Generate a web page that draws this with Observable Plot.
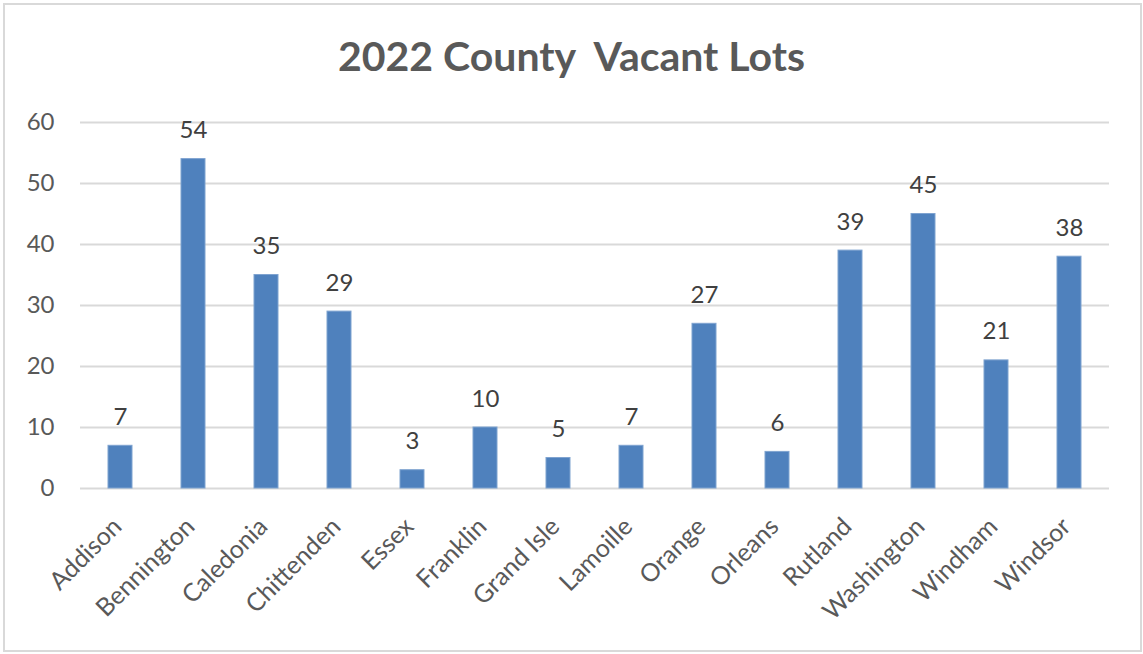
<!DOCTYPE html>
<html>
<head>
<meta charset="utf-8">
<script src="https://cdn.jsdelivr.net/npm/d3@7"></script>
<script src="https://cdn.jsdelivr.net/npm/@observablehq/plot@0.6"></script>
<style>
  html, body { margin: 0; padding: 0; background: #fff; }
  #wrap { position: relative; width: 1143px; height: 654px; overflow: hidden; font-family: Lato, "Open Sans", sans-serif; }
  #frame { position: absolute; left: 3px; top: 3px; width: 1135px; height: 645px; border: 2px solid #d9d9d9; }
  #title { position: absolute; left: 0; top: 32px; width: 1143px; text-align: center; font-size: 41px; font-weight: bold; color: #595959; line-height: 48px; white-space: pre; }
  #chart { position: absolute; left: 0; top: 95px; }
</style>
</head>
<body>
<div id="wrap">
  <div id="frame"></div>
  <div id="title">2022 County  Vacant Lots</div>
  <div id="chart"></div>
</div>
<script>
const counties = ["Addison","Bennington","Caledonia","Chittenden","Essex","Franklin","Grand Isle","Lamoille","Orange","Orleans","Rutland","Washington","Windham","Windsor"];
const lots = [7,54,35,29,3,10,5,7,27,6,39,45,21,38];
const yTicks = [0,10,20,30,40,50,60];

const data = counties.map((c, i) => ({county: c, value: lots[i]}));

const chart = Plot.plot({
  width: 1143,
  height: 554,
  marginTop: 27,
  marginBottom: 161,
  marginLeft: 80,
  marginRight: 34,
  style: {fontFamily: "Lato, 'Open Sans', sans-serif", fontSize: "24px", color: "#595959", background: "transparent"},
  x: {domain: counties, paddingInner: 0.67, paddingOuter: 0.335, label: null},
  y: {domain: [0, 60], label: null},
  marks: [
    Plot.ruleY(yTicks, {stroke: "#d9d9d9", strokeWidth: 2}),
    Plot.barY(data, {x: "county", y: "value", fill: "#4f81bd", stroke: "#7fa3d0", strokeWidth: 1}),
    Plot.text(data, {x: "county", y: "value", text: d => String(d.value), dy: -21, lineAnchor: "bottom", fill: "#404040", fontSize: 24}),
    Plot.axisY({ticks: yTicks, tickSize: 0, tickPadding: 26, fontSize: 24, fill: "#595959"}),
    Plot.axisX({tickSize: 0, tickPadding: 34, tickRotate: -45, fontSize: 25, fill: "#595959", dx: -3})
  ]
});
document.getElementById("chart").appendChild(chart);
</script>
</body>
</html>
